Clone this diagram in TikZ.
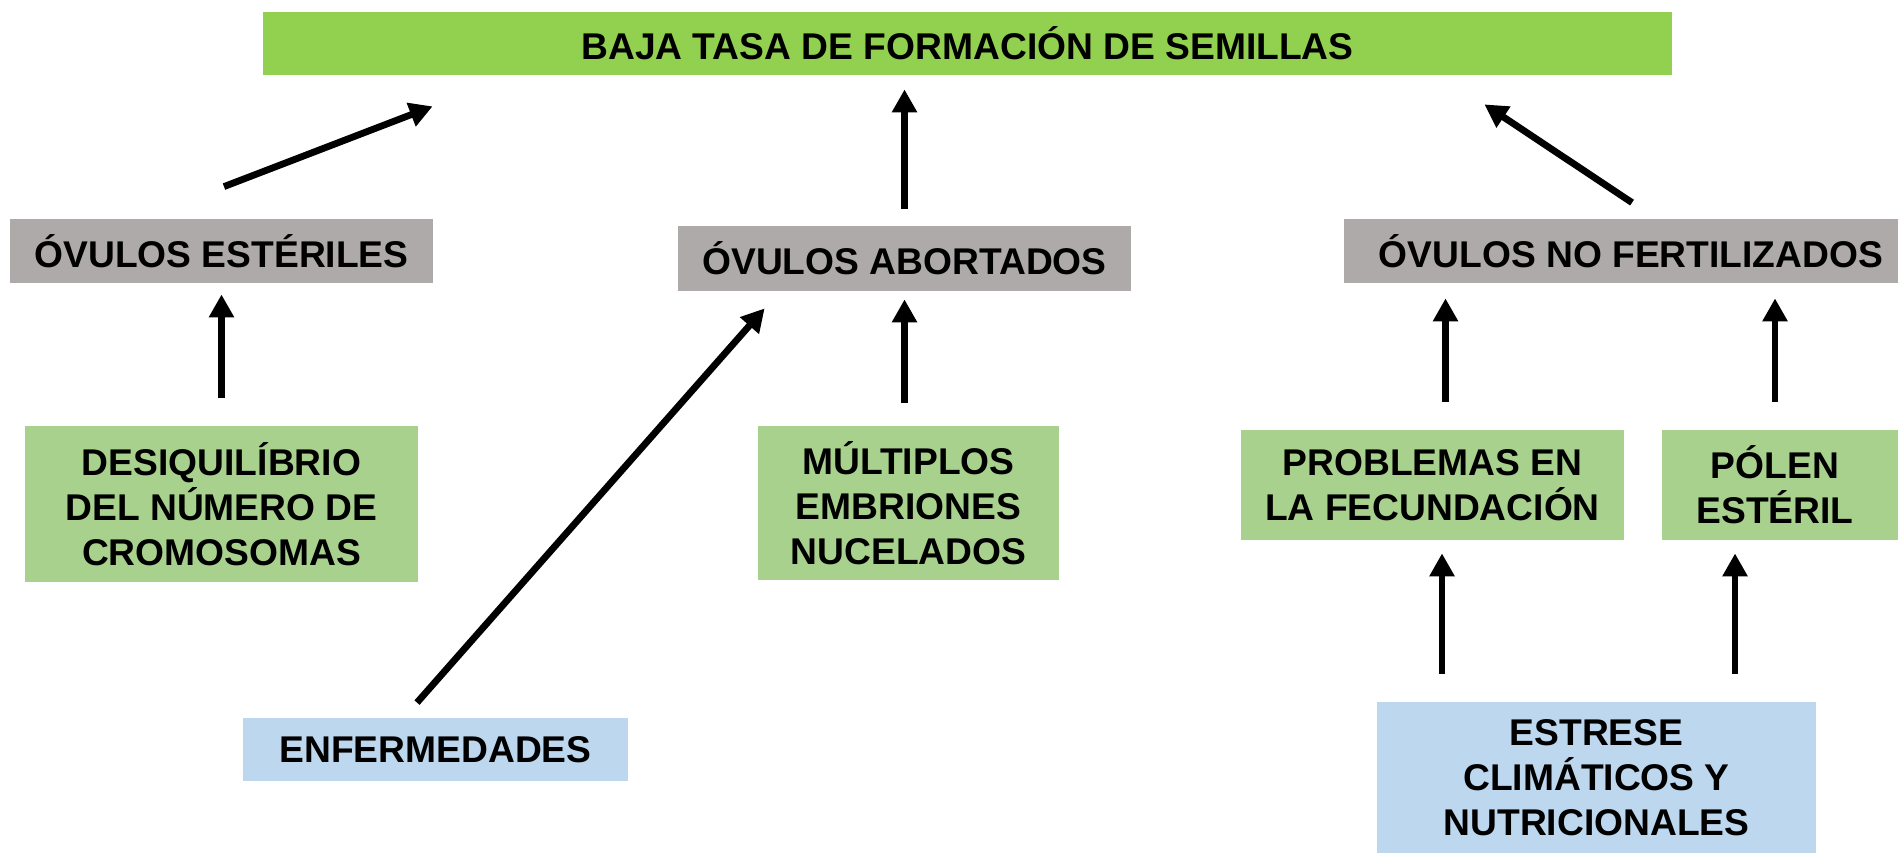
\documentclass[tikz,border=0pt]{standalone}
\usepackage{fontspec}
\setmainfont{Liberation Sans}
\usetikzlibrary{arrows.meta,calc}

\definecolor{verdeA}{HTML}{92D050}
\definecolor{verdeB}{HTML}{A9D18E}
\definecolor{grisA}{HTML}{AEAAAA}
\definecolor{azulA}{HTML}{BDD7EE}

\tikzset{
  caja/.style={inner sep=0pt, align=center, font=\bfseries\fontsize{18.6}{22.5}\selectfont},
  arr/.style={-{Triangle[width=12pt,length=11.5pt]}, line width=3.4pt}
}

\begin{document}
\begin{tikzpicture}[x=0.5pt,y=0.5pt]

   \useasboundingbox (0,0) rectangle (1898,853);

   \node[caja, fill=verdeA, minimum width=704.5pt, minimum height=31.5pt] (top) at (967.5,809.5) {BAJA TASA DE FORMACIÓN DE SEMILLAS};

   \node[caja, fill=grisA, minimum width=211.5pt, minimum height=32pt] (est) at (221.5,602) {ÓVULOS ESTÉRILES};
   \node[caja, fill=grisA, minimum width=226.5pt, minimum height=32.5pt] (abo) at (904.5,594.5) {ÓVULOS ABORTADOS};
   \node[caja, fill=grisA, minimum width=287pt, minimum height=32pt] (nofert) at (1631,602) {ÓVULOS NO FERTILIZADOS};

   \node[caja, fill=verdeB, minimum width=196.5pt, minimum height=78pt] (desq) at (221.5,349) {DESIQUILÍBRIO\\DEL NÚMERO DE\\CROMOSOMAS};
   \node[caja, fill=verdeB, minimum width=150.5pt, minimum height=77pt] (mult) at (908.5,350) {MÚLTIPLOS\\EMBRIONES\\NUCELADOS};
   \node[caja, fill=verdeB, minimum width=191.5pt, minimum height=55pt] (prob) at (1432.5,368) {PROBLEMAS EN\\LA FECUNDACIÓN};
   \fill[verdeB] (1800,313) rectangle (1898,423);
   \node[caja, fill=verdeB, minimum width=113pt, minimum height=55pt] (pol) at (1775,368) {PÓLEN\\ESTÉRIL};

   \node[caja, fill=azulA, minimum width=192.5pt, minimum height=31.5pt] (enf) at (435.5,103.5) {ENFERMEDADES};
   \node[caja, fill=azulA, minimum width=219.5pt, minimum height=75.5pt] (estr) at (1596.5,75.5) {ESTRESE\\CLIMÁTICOS Y\\NUTRICIONALES};

   \draw[arr] ($(est.north)+(2.5,32)$) -- ($(top.south west)+(170,-31)$);
   \draw[arr, shorten <=8.5pt, shorten >=7pt] (abo.north) -- (abo.north |- top.south);
   \draw[arr] ($(nofert.north)+(1,16)$) -- ($(top.south east)+(-188,-29)$);

   \draw[arr, shorten <=14pt, shorten >=5.5pt] (desq.north) -- (est.south);
   \draw[arr] ($(enf.north)+(-18.5,15)$) -- ($(abo.south west)+(87,-17)$);
   \draw[arr, shorten <=11.5pt, shorten >=4pt] (abo.south |- mult.north) -- (abo.south);
   \draw[arr, shorten <=14pt, shorten >=7.5pt] ([xshift=6.5pt]prob.north) -- ([xshift=6.5pt]prob.north |- nofert.south);
   \draw[arr, shorten <=14pt, shorten >=7.5pt] (pol.north) -- (pol.north |- nofert.south);

   \draw[arr, shorten <=14pt, shorten >=6.5pt] ([xshift=4.75pt]prob.south |- estr.north) -- ([xshift=4.75pt]prob.south);
   \draw[arr, shorten <=14pt, shorten >=6.5pt] ([xshift=-20pt]pol.south |- estr.north) -- ([xshift=-20pt]pol.south);
\end{tikzpicture}
\end{document}
